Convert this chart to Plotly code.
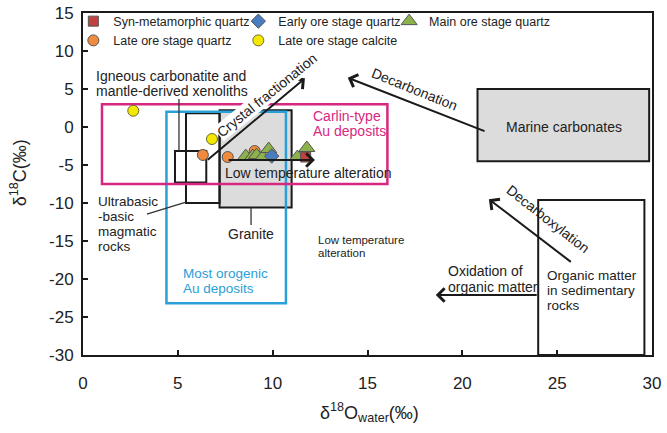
import plotly.graph_objects as go

# ---------------- data ----------------
syn_x = [11.74]
syn_y = [-3.95]
early_x = [9.95]
early_y = [-3.82]
main_x = [8.58, 8.95, 9.15, 9.47, 9.79, 11.3, 11.8]
main_y = [-3.82, -3.82, -3.7, -3.95, -2.9, -3.95, -2.76]
lateq_x = [6.32, 7.63, 9.05]
lateq_y = [-3.68, -3.95, -3.16]
latec_x = [2.65, 6.8]
latec_y = [2.14, -1.58]

# field boxes [x0, x1, y0, y1]
granite_box = [7.2, 11.0, -10.6, 2.2]
marine_box = [20.8, 29.85, -4.5, 5.0]
ultrabasic_box = [5.43, 7.2, -10.0, 1.8]
carbonatite_box = [4.85, 6.5, -7.3, -3.15]
organic_box = [24.0, 29.6, -30.0, -9.6]
orogenic_box = [4.4, 10.7, -23.2, 2.0]
carlin_box = [1.0, 16.05, -7.5, 3.0]

# process arrows [tail_x, tail_y, head_x, head_y]
arrow_crystal = [6.5, -4.47, 11.7, 6.41]
arrow_decarbonation = [21.25, -0.62, 13.96, 6.49]
arrow_decarboxylation = [25.8, -17.9, 21.4, -9.5]
arrow_oxidation = [24.0, -22.1, 18.6, -22.1]
arrow_lowtemp = [7.6, -4.34, 12.23, -4.34]

# leader lines [x0, y0, x1, y1]
lead_igneous = [5.06, 3.68, 5.06, -3.15]
lead_ultrabasic = [3.37, -11.45, 5.43, -9.87]
lead_granite = [8.86, -10.6, 8.86, -12.89]

x_ticks = [0, 5, 10, 15, 20, 25, 30]
y_ticks = [-30, -25, -20, -15, -10, -5, 0, 5, 10, 15]
y_ticktext = ['-30', '-25', '-20', '-15', '-10', '-5', '0', '5', '10', '15']

FONT = 'Arial, Liberation Sans, sans-serif'
DARK = '#1a1a1a'
TXT = '#222222'
MAGENTA = '#d6287f'
BLUE = '#2aa0d8'
GRAYFILL = '#dcdcdc'

fig = go.Figure()

mk_line = dict(color='#555555', width=1)
fig.add_trace(go.Scatter(x=lateq_x, y=lateq_y, mode='markers', name='Late ore stage quartz',
                         marker=dict(symbol='circle', size=11, color='#f08a3c', line=mk_line),
                         legend='legend'))
fig.add_trace(go.Scatter(x=latec_x, y=latec_y, mode='markers', name='Late ore stage calcite',
                         marker=dict(symbol='circle', size=11, color='#f4e800', line=dict(color='#6b6b30', width=1)),
                         legend='legend2'))
fig.add_trace(go.Scatter(x=main_x, y=main_y, mode='markers', name='Main ore stage quartz',
                         marker=dict(symbol='triangle-up', size=14, color='#8db24c', line=mk_line),
                         legend='legend3'))
fig.add_trace(go.Scatter(x=early_x, y=early_y, mode='markers', name='Early ore stage quartz',
                         marker=dict(symbol='diamond', size=11, color='#4a7cc0', line=mk_line),
                         legend='legend2', legendrank=1))
fig.add_trace(go.Scatter(x=syn_x, y=syn_y, mode='markers', name='Syn-metamorphic quartz',
                         marker=dict(symbol='square', size=10, color='#c0413d', line=mk_line),
                         legend='legend', legendrank=1))

# ---------------- shapes ----------------
def box(b, color, width=2, fill=None):
    fig.add_shape(type='rect', x0=b[0], x1=b[1], y0=b[2], y1=b[3], xref='x', yref='y',
                  line=dict(color=color, width=width),
                  fillcolor=fill if fill else 'rgba(0,0,0,0)', layer='below')

box(granite_box, DARK, 2, GRAYFILL)
box(marine_box, DARK, 2, GRAYFILL)
box(ultrabasic_box, DARK, 2)
box(carbonatite_box, DARK, 2)
box(organic_box, DARK, 2)
box(orogenic_box, BLUE, 2.5)
box(carlin_box, MAGENTA, 2.5)

def lead(l):
    fig.add_shape(type='line', x0=l[0], y0=l[1], x1=l[2], y1=l[3], xref='x', yref='y',
                  line=dict(color='#333333', width=1.3))

lead(lead_igneous)
lead(lead_ultrabasic)
lead(lead_granite)

# ---------------- arrows ----------------
def arrow(a):
    fig.add_annotation(x=a[2], y=a[3], ax=a[0], ay=a[1], xref='x', yref='y', axref='x', ayref='y',
                       text='', showarrow=True, arrowhead=4, arrowsize=1.3, arrowwidth=2,
                       arrowcolor=DARK, standoff=0, startstandoff=0)

for a in [arrow_crystal, arrow_decarbonation, arrow_decarboxylation, arrow_oxidation, arrow_lowtemp]:
    arrow(a)

# ---------------- texts ----------------
def txt(x, y, s, size=13.5, color=TXT, anchor='left', angle=0, bg=None):
    fig.add_annotation(x=x, y=y, text=s, xref='x', yref='y', showarrow=False,
                       xanchor=anchor, yanchor='middle', textangle=angle,
                       font=dict(family=FONT, size=size, color=color),
                       bgcolor=bg if bg else 'rgba(0,0,0,0)', borderpad=0)

txt(0.63, 6.75, 'Igneous carbonatite and', size=14)
txt(0.63, 4.7, 'mantle-derived xenoliths', size=14)
txt(0.75, -9.75, 'Ultrabasic')
txt(0.75, -11.75, '-basic')
txt(0.75, -13.75, 'magmatic')
txt(0.75, -15.75, 'rocks')
txt(9.7, 4.21, 'Crystal fractionation', size=14, anchor='center', angle=-39, bg='white')
txt(12.07, 1.5, 'Carlin-type', size=14, color=MAGENTA)
txt(12.07, -0.5, 'Au deposits', size=14, color=MAGENTA)
txt(7.45, -6.01, 'Low temperature alteration', size=14)
txt(8.86, -14.08, 'Granite', size=14, anchor='center')
txt(5.24, -19.3, 'Most orogenic', color=BLUE)
txt(5.24, -21.3, 'Au deposits', color=BLUE)
txt(12.35, -14.9, 'Low temperature', size=11.5)
txt(12.35, -16.6, 'alteration', size=11.5)
txt(17.46, 5.0, 'Decarbonation', size=14, anchor='center', angle=22)
txt(25.36, 0.04, 'Marine carbonates', size=14, anchor='center')
txt(24.52, -12.1, 'Decarboxylation', size=14, anchor='center', angle=38)
txt(19.17, -19.0, 'Oxidation of', size=14)
txt(19.17, -21.1, 'organic matter', size=14)
txt(24.41, -19.55, 'Organic matter')
txt(24.41, -21.55, 'in sedimentary')
txt(24.41, -23.55, 'rocks')

# axis titles
fig.add_annotation(x=-0.114, y=0.532, xref='paper', yref='paper', showarrow=False,
                   text='δ<sup>18</sup>C(‰)', textangle=-90, xanchor='center', yanchor='middle',
                   font=dict(family=FONT, size=18, color=TXT))
fig.add_annotation(x=0.504, y=-0.167, xref='paper', yref='paper', showarrow=False,
                   text='δ<sup>18</sup>O<sub>water</sub>(‰)', xanchor='center', yanchor='middle',
                   font=dict(family=FONT, size=18, color=TXT))

axis_common = dict(showline=True, linewidth=2, linecolor=DARK, mirror=True, showgrid=False,
                   zeroline=False, ticks='inside', ticklen=5, tickwidth=2, tickcolor=DARK,
                   tickfont=dict(family=FONT, size=17, color=TXT))

fig.update_xaxes(range=[0, 30], tickvals=x_ticks, ticklabelstandoff=12, **axis_common)
fig.update_yaxes(range=[-30, 15], tickvals=y_ticks, ticktext=y_ticktext, ticklabelstandoff=4, **axis_common)

leg_common = dict(bgcolor='rgba(0,0,0,0)', borderwidth=0, xanchor='left', yanchor='top',
                  font=dict(family=FONT, size=12.5, color=TXT), tracegroupgap=0,
                  itemwidth=30, orientation='v')
fig.update_layout(
    width=667, height=433,
    margin=dict(l=83, r=15, t=13, b=78, autoexpand=False),
    paper_bgcolor='white', plot_bgcolor='white',
    showlegend=True,
    legend=dict(x=-0.017, y=1.019, **leg_common),
    legend2=dict(x=0.273, y=1.019, **leg_common),
    legend3=dict(x=0.538, y=1.019, **leg_common),
)

fig.write_html('out.html')
